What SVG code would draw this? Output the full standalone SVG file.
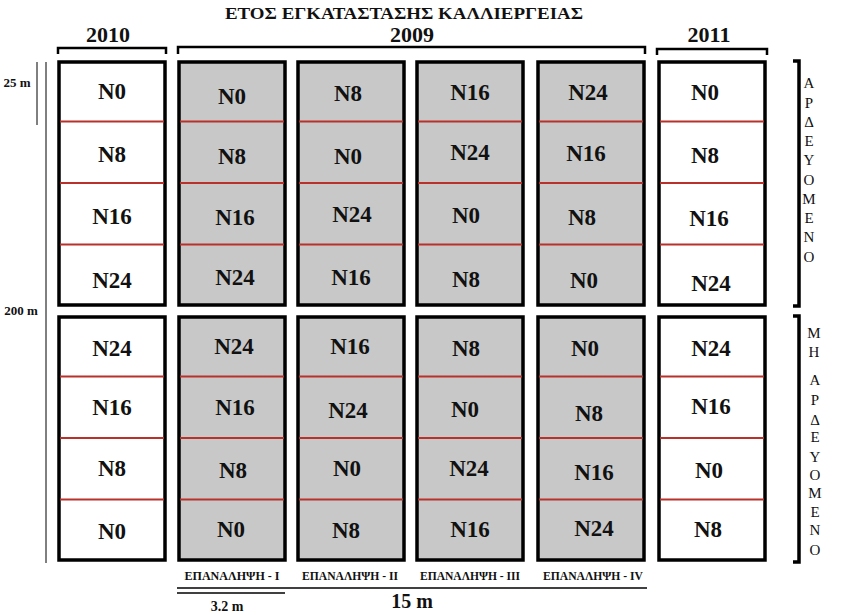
<svg xmlns="http://www.w3.org/2000/svg" width="847" height="615" viewBox="0 0 847 615">
<style>
.box{stroke:#000;stroke-width:3.5}
.w{fill:#fff}
.g{fill:#c8c8c8}
.red{stroke:#b8312a;stroke-width:2}
.n{font-family:'Liberation Serif','DejaVu Serif','Times New Roman',serif;font-weight:bold;font-size:23px;text-anchor:middle;fill:#111}
.t{font-family:'Liberation Serif','DejaVu Serif','Times New Roman',serif;font-weight:bold;text-anchor:middle;fill:#111}
.v{font-family:'Liberation Serif','DejaVu Serif','Times New Roman',serif;font-size:15px;text-anchor:middle;fill:#111}
.ln{stroke:#000;fill:none}
</style>
<rect width="847" height="615" fill="#fff"/>

<g id="titles">
<text class="t" x="404" y="19" font-size="16" textLength="358" lengthAdjust="spacingAndGlyphs">ΕΤΟΣ ΕΓΚΑΤΑΣΤΑΣΗΣ ΚΑΛΛΙΕΡΓΕΙΑΣ</text>
<text class="t" x="108" y="42" font-size="22">2010</text>
<text class="t" x="412" y="42" font-size="22">2009</text>
<text class="t" x="709" y="42" font-size="22">2011</text>
</g>

<g id="connectors">
<path class="ln" stroke-width="2.5" d="M58,54 V48 H166 V54"/>
<path class="ln" stroke-width="2.5" d="M178,54 V47 H645 V54"/>
<path class="ln" stroke-width="2.5" d="M657,55 V49 H767 V55"/>
<path class="ln" stroke-width="3.5" d="M793,61 H799 V306 H793"/>
<path class="ln" stroke-width="3.5" d="M793,316 H799 V562 H793"/>
<line class="ln" stroke-width="1" x1="37" y1="62" x2="37" y2="125"/>
<line class="ln" stroke-width="1" x1="46" y1="62" x2="46" y2="563"/>
<line class="ln" stroke-width="1.5" x1="177" y1="588" x2="647" y2="588"/>
<line class="ln" stroke-width="1.5" x1="177" y1="593" x2="285" y2="593"/>
</g>

<g id="dims">
<text class="t" x="17" y="87" font-size="13">25 m</text>
<text class="t" x="21" y="315" font-size="13">200 m</text>
<text class="t" x="227" y="611" font-size="14">3.2 m</text>
<text class="t" x="412" y="608" font-size="20">15 m</text>
</g>

<g id="col-2010">
<rect class="box w" x="59" y="62" width="106" height="243"/>
<rect class="box w" x="59" y="317" width="106" height="243"/>
<path class="red" d="M60,121.5 H164 M60,183 H164 M60,244.5 H164 M60,376.5 H164 M60,438 H164 M60,499.5 H164"/>
<text class="n" x="112" y="99">N0</text>
<text class="n" x="112" y="162">N8</text>
<text class="n" x="112" y="224">N16</text>
<text class="n" x="112" y="288">N24</text>
<text class="n" x="112" y="356">N24</text>
<text class="n" x="112" y="415">N16</text>
<text class="n" x="112" y="476">N8</text>
<text class="n" x="112" y="539">N0</text>
</g>

<g id="rep-1">
<rect class="box g" x="179" y="62" width="106" height="243"/>
<rect class="box g" x="179" y="317" width="106" height="243"/>
<path class="red" d="M180,121.5 H284 M180,183 H284 M180,244.5 H284 M180,376.5 H284 M180,438 H284 M180,499.5 H284"/>
<text class="n" x="232" y="104">N0</text>
<text class="n" x="232" y="164">N8</text>
<text class="n" x="235" y="225">N16</text>
<text class="n" x="235" y="285">N24</text>
<text class="n" x="234" y="354">N24</text>
<text class="n" x="235" y="415">N16</text>
<text class="n" x="233" y="478">N8</text>
<text class="n" x="231" y="537">N0</text>
<text class="t" x="232" y="580" font-size="12" textLength="95" lengthAdjust="spacingAndGlyphs">ΕΠΑΝΑΛΗΨΗ - Ι</text>
</g>

<g id="rep-2">
<rect class="box g" x="298" y="62" width="106" height="243"/>
<rect class="box g" x="298" y="317" width="106" height="243"/>
<path class="red" d="M299,121.5 H403 M299,183 H403 M299,244.5 H403 M299,376.5 H403 M299,438 H403 M299,499.5 H403"/>
<text class="n" x="348" y="101">N8</text>
<text class="n" x="348" y="164">N0</text>
<text class="n" x="352" y="222">N24</text>
<text class="n" x="351" y="285">N16</text>
<text class="n" x="350" y="354">N16</text>
<text class="n" x="348" y="418">N24</text>
<text class="n" x="347" y="476">N0</text>
<text class="n" x="346" y="538">N8</text>
<text class="t" x="350" y="580" font-size="12" textLength="96" lengthAdjust="spacingAndGlyphs">ΕΠΑΝΑΛΗΨΗ - ΙΙ</text>
</g>

<g id="rep-3">
<rect class="box g" x="417" y="62" width="106" height="243"/>
<rect class="box g" x="417" y="317" width="106" height="243"/>
<path class="red" d="M418,121.5 H522 M418,183 H522 M418,244.5 H522 M418,376.5 H522 M418,438 H522 M418,499.5 H522"/>
<text class="n" x="470" y="100">N16</text>
<text class="n" x="470" y="160">N24</text>
<text class="n" x="466" y="223">N0</text>
<text class="n" x="466" y="287">N8</text>
<text class="n" x="466" y="356">N8</text>
<text class="n" x="465" y="417">N0</text>
<text class="n" x="469" y="476">N24</text>
<text class="n" x="470" y="537">N16</text>
<text class="t" x="470" y="580" font-size="12" textLength="100" lengthAdjust="spacingAndGlyphs">ΕΠΑΝΑΛΗΨΗ - ΙΙΙ</text>
</g>

<g id="rep-4">
<rect class="box g" x="538" y="62" width="106" height="243"/>
<rect class="box g" x="538" y="317" width="106" height="243"/>
<path class="red" d="M539,121.5 H643 M539,183 H643 M539,244.5 H643 M539,376.5 H643 M539,438 H643 M539,499.5 H643"/>
<text class="n" x="588" y="100">N24</text>
<text class="n" x="586" y="161">N16</text>
<text class="n" x="582" y="225">N8</text>
<text class="n" x="584" y="288">N0</text>
<text class="n" x="585" y="356">N0</text>
<text class="n" x="589" y="421">N8</text>
<text class="n" x="594" y="480">N16</text>
<text class="n" x="594" y="536">N24</text>
<text class="t" x="593" y="580" font-size="12" textLength="100" lengthAdjust="spacingAndGlyphs">ΕΠΑΝΑΛΗΨΗ - ΙV</text>
</g>

<g id="col-2011">
<rect class="box w" x="659" y="62" width="106" height="243"/>
<rect class="box w" x="659" y="317" width="106" height="243"/>
<path class="red" d="M660,121.5 H764 M660,183 H764 M660,244.5 H764 M660,376.5 H764 M660,438 H764 M660,499.5 H764"/>
<text class="n" x="705" y="100">N0</text>
<text class="n" x="705" y="163">N8</text>
<text class="n" x="709" y="226">N16</text>
<text class="n" x="711" y="291">N24</text>
<text class="n" x="711" y="356">N24</text>
<text class="n" x="711" y="414">N16</text>
<text class="n" x="709" y="478">N0</text>
<text class="n" x="708" y="537">N8</text>
</g>

<g id="irrigated">
<text class="v" x="809" y="88">Α</text>
<text class="v" x="809" y="108">Ρ</text>
<text class="v" x="809" y="127">Δ</text>
<text class="v" x="809" y="146">Ε</text>
<text class="v" x="809" y="165">Υ</text>
<text class="v" x="809" y="185">Ο</text>
<text class="v" x="809" y="204">Μ</text>
<text class="v" x="809" y="223">Ε</text>
<text class="v" x="809" y="242">Ν</text>
<text class="v" x="809" y="262">Ο</text>
</g>

<g id="non-irrigated">
<text class="v" x="814" y="338">Μ</text>
<text class="v" x="814" y="357">Η</text>
<text class="v" x="815" y="385">Α</text>
<text class="v" x="815" y="405">Ρ</text>
<text class="v" x="815" y="425">Δ</text>
<text class="v" x="815" y="442">Ε</text>
<text class="v" x="815" y="462">Υ</text>
<text class="v" x="815" y="480">Ο</text>
<text class="v" x="815" y="498">Μ</text>
<text class="v" x="815" y="517">Ε</text>
<text class="v" x="815" y="535">Ν</text>
<text class="v" x="815" y="555">Ο</text>
</g>
</svg>
